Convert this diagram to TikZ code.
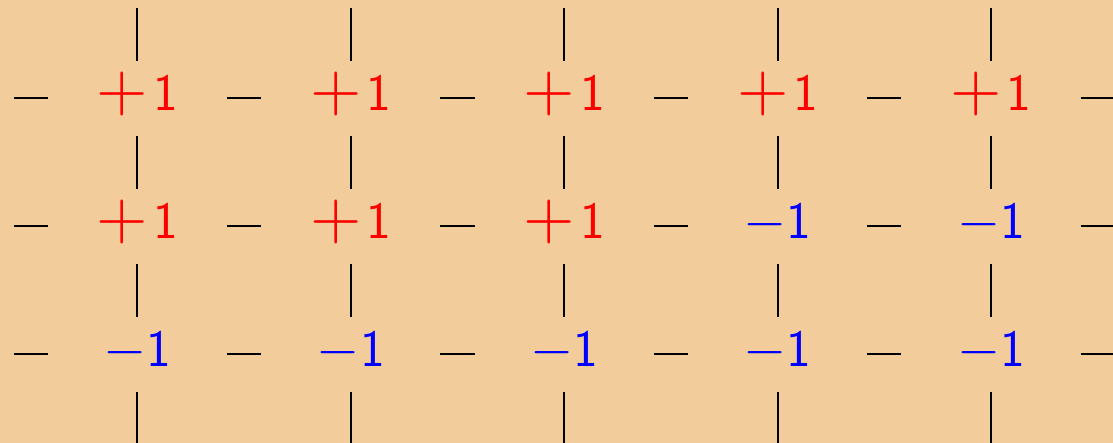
\documentclass[tikz,border=0pt]{standalone}
\usepackage{graphicx}
\usepackage{xcolor}
\usetikzlibrary{positioning}
\definecolor{sand}{HTML}{F2CC9A}
\definecolor{upred}{HTML}{FF0000}
\definecolor{downblue}{HTML}{0000FF}
\newcommand{\upspin}{\scalebox{2.2}{$+$}\,{\sffamily\fontsize{17.5}{17.5}\selectfont 1}}
\newcommand{\downspin}{\scalebox{1.85}{$-$}{\sffamily\fontsize{17.5}{17.5}\selectfont 1}}
\tikzset{
  spin/.style={inner sep=0pt, text height=10pt, text depth=2pt},
  up/.style={spin, text=upred},
  down/.style={spin, text=downblue},
  hbond/.style={draw=black, line width=0.7pt, shorten <=1.05cm, shorten >=1.05cm},
  vbond/.style={draw=black, line width=0.7pt, shorten <=0.44cm, shorten >=0.44cm},
}

\begin{document}
\begin{tikzpicture}[x=1cm,y=1cm]

% Canvas ----------------------------------------------------------------------
\fill[sand] (-1.61,1.15) rectangle (11.43,-4.04);
\useasboundingbox (-1.61,1.15) rectangle (11.43,-4.04);

% Row 1 -----------------------------------------------------------------------
\node[up] (s11) at (0,0)    {\upspin};
\node[up] (s12) at (2.5,0)  {\upspin};
\node[up] (s13) at (5,0)    {\upspin};
\node[up] (s14) at (7.5,0)  {\upspin};
\node[up] (s15) at (10,0)   {\upspin};

% Row 2 -----------------------------------------------------------------------
\node[up]   (s21) at (0,-1.5)   {\upspin};
\node[up]   (s22) at (2.5,-1.5) {\upspin};
\node[up]   (s23) at (5,-1.5)   {\upspin};
\node[down] (s24) at (7.5,-1.5) {\downspin};
\node[down] (s25) at (10,-1.5)  {\downspin};

% Row 3 -----------------------------------------------------------------------
\node[down] (s31) at (0,-3)   {\downspin};
\node[down] (s32) at (2.5,-3) {\downspin};
\node[down] (s33) at (5,-3)   {\downspin};
\node[down] (s34) at (7.5,-3) {\downspin};
\node[down] (s35) at (10,-3)  {\downspin};

% Open ends of the lattice ----------------------------------------------------
\coordinate (w1) at (-2.5,0);  \coordinate (e1) at (12.5,0);
\coordinate (w2) at (-2.5,-1.5); \coordinate (e2) at (12.5,-1.5);
\coordinate (w3) at (-2.5,-3); \coordinate (e3) at (12.5,-3);
\coordinate (n1) at (0,1.5);   \coordinate (b1) at (0,-4.5);
\coordinate (n2) at (2.5,1.5); \coordinate (b2) at (2.5,-4.5);
\coordinate (n3) at (5,1.5);   \coordinate (b3) at (5,-4.5);
\coordinate (n4) at (7.5,1.5); \coordinate (b4) at (7.5,-4.5);
\coordinate (n5) at (10,1.5);  \coordinate (b5) at (10,-4.5);

% Horizontal bonds
\path (w1) edge[hbond] (s11.center) (s11.center) edge[hbond] (s12.center)
      (s12.center) edge[hbond] (s13.center) (s13.center) edge[hbond] (s14.center)
      (s14.center) edge[hbond] (s15.center) (s15.center) edge[hbond] (e1);
\path (w2) edge[hbond] (s21.center) (s21.center) edge[hbond] (s22.center)
      (s22.center) edge[hbond] (s23.center) (s23.center) edge[hbond] (s24.center)
      (s24.center) edge[hbond] (s25.center) (s25.center) edge[hbond] (e2);
\path (w3) edge[hbond] (s31.center) (s31.center) edge[hbond] (s32.center)
      (s32.center) edge[hbond] (s33.center) (s33.center) edge[hbond] (s34.center)
      (s34.center) edge[hbond] (s35.center) (s35.center) edge[hbond] (e3);

% Vertical bonds
\path (n1) edge[vbond] (s11.center) (s11.center) edge[vbond] (s21.center)
      (s21.center) edge[vbond] (s31.center) (s31.center) edge[vbond] (b1);
\path (n2) edge[vbond] (s12.center) (s12.center) edge[vbond] (s22.center)
      (s22.center) edge[vbond] (s32.center) (s32.center) edge[vbond] (b2);
\path (n3) edge[vbond] (s13.center) (s13.center) edge[vbond] (s23.center)
      (s23.center) edge[vbond] (s33.center) (s33.center) edge[vbond] (b3);
\path (n4) edge[vbond] (s14.center) (s14.center) edge[vbond] (s24.center)
      (s24.center) edge[vbond] (s34.center) (s34.center) edge[vbond] (b4);
\path (n5) edge[vbond] (s15.center) (s15.center) edge[vbond] (s25.center)
      (s25.center) edge[vbond] (s35.center) (s35.center) edge[vbond] (b5);

\end{tikzpicture}
\end{document}
